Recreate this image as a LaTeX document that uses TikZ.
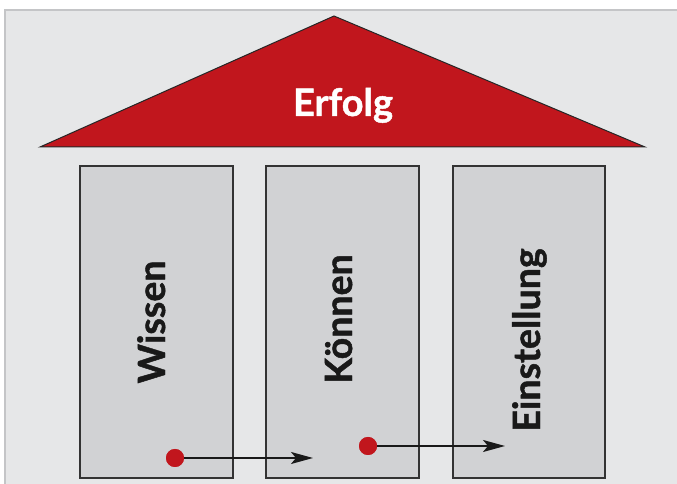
\documentclass[tikz,border=0pt]{standalone}
\usepackage{fontspec}
\setsansfont{Lato}[BoldFeatures={FakeBold=1.2}]
\usetikzlibrary{arrows.meta,positioning}
\definecolor{roofred}{HTML}{C1161D}
\definecolor{panelgray}{HTML}{E6E7E8}
\definecolor{pillargray}{HTML}{D1D2D4}
\definecolor{framegray}{HTML}{C4C5C7}
\tikzset{
  pillar/.style={draw=black!80, line width=1.4pt, fill=pillargray},
  pillarlabel/.style={rotate=90, anchor=base, font=\sffamily\bfseries\fontsize{37.5}{40}\selectfont, text=black!90},
  reddot/.style={circle, fill=roofred, inner sep=0pt, minimum size=18pt},
  flow/.style={line width=1.8pt, black!90, -{Stealth[length=22pt, width=12pt, inset=5pt]}}
}
\begin{document}
\begin{tikzpicture}[x=1pt,y=1pt]
\useasboundingbox (0,0) rectangle (677,484);
% Background panel
\fill[panelgray] (5,0) rectangle (677,474);
\draw[framegray, line width=2pt] (5,0) -- (5,474) -- (677,474);
% Roof
\draw[fill=roofred, draw=black!85, line width=1pt] (40,337) -- (334,468) -- (645,337) -- cycle;
\node[anchor=base, text=white, font=\sffamily\bfseries\fontsize{38}{40}\selectfont] (roof) at (343,368) {Erfolg};
% Pillars
\foreach \xl/\xr/\name in {80/233/wissen, 266/419/koennen, 453/605/einstellung} {
  \draw[pillar] (\xl,6) rectangle (\xr,318);
}
\node[pillarlabel] (wissen) at (165,162) {Wissen};
\node[pillarlabel] (koennen) at (352,165) {Können};
\node[pillarlabel] (einstellung) at (540,144) {Einstellung};
% Dots and arrows
\node[reddot] (dot1) at (175,26) {};
\node[reddot] (dot2) at (368,38) {};
\coordinate (end1) at (313,26);
\coordinate (end2) at (505,38);
\draw[flow] (dot1.center) -- (end1);
\draw[flow] (dot2.center) -- (end2);
\node[reddot] at (dot1) {};
\node[reddot] at (dot2) {};
\end{tikzpicture}
\end{document}
